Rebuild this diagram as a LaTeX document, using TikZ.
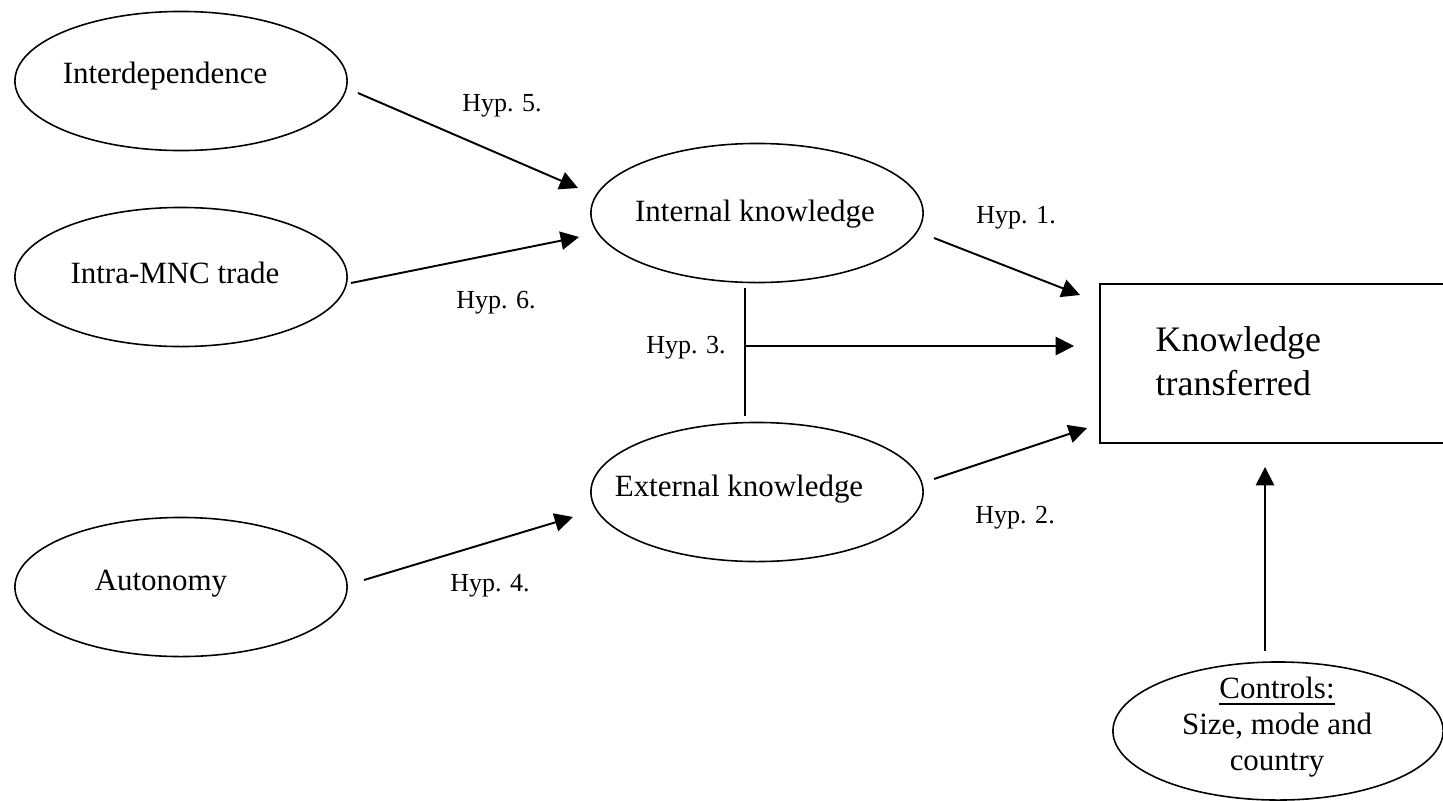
\documentclass[tikz,border=0pt]{standalone}
\usepackage{fontspec}
\setmainfont{Liberation Serif}
\usetikzlibrary{shapes.geometric,arrows.meta}
\begin{document}
\begin{tikzpicture}[x=0.01cm,y=-0.01cm,
  oval/.style={draw,ellipse,inner sep=0pt,line width=0.45pt,minimum width=3.32cm,minimum height=1.39cm},
  lbl/.style={font=\rmfamily\fontsize{8.8}{10.2}\selectfont,inner sep=0pt},
  hyp/.style={font=\rmfamily\fontsize{7.4}{9}\selectfont,inner sep=0pt},
  arr/.style={line width=0.55pt,-{Triangle[length=5.2pt,width=5.2pt]}},
  ln/.style={line width=0.55pt}]
\useasboundingbox (0,0) rectangle (1443,800);
\clip (0,0) rectangle (1443,800);
% ellipses
\node[oval] (interdep) at (181,81) {};
\node[oval] (intra) at (181,277) {};
\node[oval] (auton) at (181,587) {};
\node[oval] (internal) at (757,213) {};
\node[oval] (external) at (757,492) {};
\node[oval,minimum width=3.30cm,minimum height=1.38cm] (controls) at (1278,731) {};
% box
\node[draw,line width=0.6pt,inner sep=0pt,anchor=north west,minimum width=3.7cm,minimum height=1.59cm] (kt) at (1099,283) {};
% texts
\node[lbl] (interdep-t) at (165,76) {Interdependence};
\node[lbl] (intra-t) at (175,273) {Intra-MNC trade};
\node[lbl] (auton-t) at (161,584) {Autonomy};
\node[lbl] (internal-t) at (755,214) {Internal knowledge};
\node[lbl] (external-t) at (739,489) {External knowledge};
\node[font=\rmfamily\fontsize{10.2}{12.5}\selectfont,inner sep=0pt,align=left,anchor=west] (kt-t) at (1155,361) {Knowledge\\transferred};
\node[lbl,align=center] (controls-t) at (1277,727) {\underline{Controls:}\\Size, mode and\\country};
% hyp labels
\node[hyp] (h5) at (502,106) {Hyp. 5.};
\node[hyp] (h6) at (496,303) {Hyp. 6.};
\node[hyp] (h1) at (1016,218) {Hyp. 1.};
\node[hyp] (h3) at (686,348) {Hyp. 3.};
\node[hyp] (h2) at (1015,518) {Hyp. 2.};
\node[hyp] (h4) at (490,586) {Hyp. 4.};
% connector end points
\coordinate (a5s) at (358,93);   \coordinate (a5e) at (578,188);
\coordinate (a6s) at (351,283);  \coordinate (a6e) at (579,237);
\coordinate (a1s) at (934,238);  \coordinate (a1e) at (1080,295);
\coordinate (a2s) at (934,479);  \coordinate (a2e) at (1087,428);
\coordinate (a4s) at (364,580);  \coordinate (a4e) at (573,517);
\coordinate (v3t) at (745,288);  \coordinate (v3b) at (745,416);
\coordinate (a3s) at (745,346);  \coordinate (a3e) at (1074,346);
\coordinate (acs) at (1265,651); \coordinate (ace) at (1265,467);
% connectors
\draw[arr] (a5s) -- (a5e);
\draw[arr] (a6s) -- (a6e);
\draw[arr] (a1s) -- (a1e);
\draw[arr] (a2s) -- (a2e);
\draw[arr] (a4s) -- (a4e);
\draw[ln] (v3t) -- (v3b);
\draw[arr] (a3s) -- (a3e);
\draw[arr] (acs) -- (ace);
\end{tikzpicture}
\end{document}
